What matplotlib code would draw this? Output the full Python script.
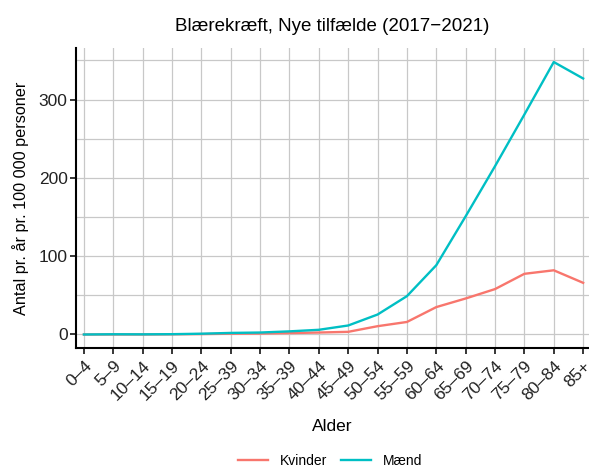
import matplotlib

matplotlib.use('Agg')
import matplotlib.pyplot as plt
import numpy as np
from matplotlib.ticker import MultipleLocator

plt.rcParams['font.family'] = ['Liberation Sans', 'DejaVu Sans']

ages = ['0–4', '5–9', '10–14', '15–19', '20–24', '25–39', '30–34', '35–39', '40–44',
        '45–49', '50–54', '55–59', '60–64', '65–69', '70–74', '75–79', '80–84', '85+']
kvinder = [0, 0, 0, 0.2, 0.5, 1.0, 1.2, 1.8, 2.5, 3.4, 10.6, 16, 35, 46, 58, 77.5, 82, 66]
maend = [0, 0.3, 0.2, 0.4, 1.0, 2.0, 2.5, 4.0, 6.0, 11.5, 25.5, 49, 88.5, 151, 215, 281, 348, 327]

fig = plt.figure(figsize=(5.89, 4.70), dpi=100)
ax = fig.add_axes([0.129, 0.26, 0.871, 0.638])

x = np.arange(len(ages))
ax.plot(x, kvinder, color='#F8766D', lw=1.7, label='Kvinder', zorder=3)
ax.plot(x, maend, color='#00BFC4', lw=1.7, label='Mænd', zorder=3)

ax.set_xlim(-0.27, 17.2)
ax.set_ylim(-17, 366)
ax.set_xticks(x)
ax.set_xticklabels(ages, rotation=45, ha='right', va='top', rotation_mode='anchor', fontsize=12.5)
ax.yaxis.set_major_locator(MultipleLocator(100))
ax.yaxis.set_minor_locator(MultipleLocator(50))
ax.tick_params(axis='y', which='minor', length=0)
ax.tick_params(axis='both', which='major', length=4, width=1.1, color='black', labelsize=12.5,
               labelcolor='#222222', pad=2)
ax.tick_params(axis='x', pad=3.5)
ax.grid(True, which='major', color='#c8c8c8', lw=0.9)
ax.grid(True, which='minor', axis='y', color='#c8c8c8', lw=0.9)
ax.set_axisbelow(True)

for s in ['top', 'right']:
    ax.spines[s].set_visible(False)
for s in ['left', 'bottom']:
    ax.spines[s].set_linewidth(1.5)
    ax.spines[s].set_color('black')

ax.set_title('Blærekræft, Nye tilfælde (2017−2021)', fontsize=13.5, pad=12)
ax.set_xlabel('Alder', fontsize=12.5, labelpad=11)
ax.set_ylabel('Antal pr. år pr. 100 000 personer', fontsize=11.7, labelpad=7)

fig.legend(loc='center', bbox_to_anchor=(0.56, 0.02), ncol=2, frameon=False,
           fontsize=10, handlelength=2.2, columnspacing=1.0, borderpad=0.1)

fig.savefig('out.png', dpi=100)
